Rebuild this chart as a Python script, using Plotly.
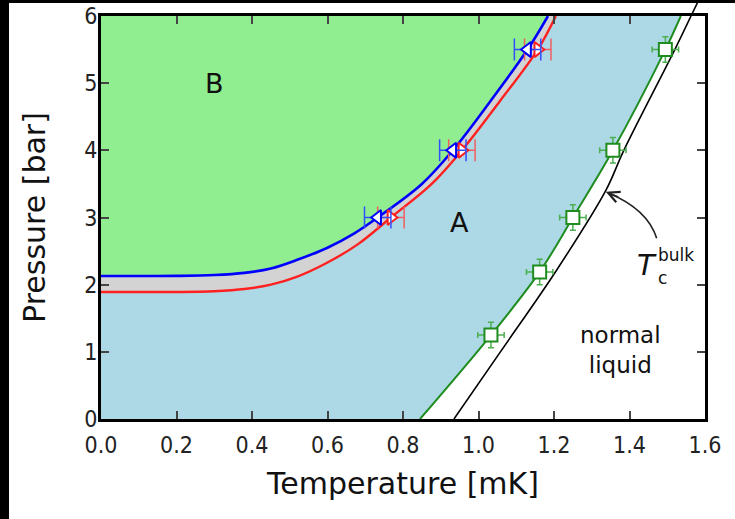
import plotly.graph_objects as go

# ---------------- data ----------------
# A-phase onset line (green), T [mK] as function of P [bar]
green_P = [0.0, 1.25, 2.19, 3.0, 4.0, 5.5, 6.0]
green_T = [0.845, 1.033, 1.162, 1.250, 1.356, 1.495, 1.536]
# green measured points (squares)
sq_P = [1.25, 2.19, 3.0, 4.0, 5.5]
sq_T = [1.033, 1.162, 1.250, 1.356, 1.495]
sq_Terr = [0.035, 0.035, 0.035, 0.035, 0.035]
sq_Perr = [0.19, 0.19, 0.19, 0.19, 0.19]

# bulk Tc (black)
bulk_P = [0.0, 1.0, 2.2, 3.4, 4.0, 5.5, 6.0]
bulk_T = [0.935, 1.058, 1.205, 1.337, 1.385, 1.520, 1.563]

# A-B transition, blue (cooling) and red (warming) lines
blue_T = [0.0, 0.1, 0.2, 0.3, 0.38, 0.45, 0.52, 0.6, 0.67, 0.733, 0.85, 0.932, 1.03, 1.13, 1.184]
blue_P = [2.13, 2.13, 2.131, 2.143, 2.175, 2.24, 2.37, 2.55, 2.76, 3.0, 3.5, 4.0, 4.72, 5.5, 6.0]
red_T = [0.0, 0.1, 0.2, 0.3, 0.38, 0.45, 0.52, 0.6, 0.68, 0.768, 0.876, 0.956, 1.055, 1.157, 1.205]
red_P = [1.89, 1.89, 1.891, 1.903, 1.935, 2.0, 2.12, 2.33, 2.60, 3.0, 3.5, 4.0, 4.72, 5.5, 6.0]

# measured A-B points
blue_pt_T = [0.733, 0.932, 1.13]
blue_pt_P = [3.0, 4.0, 5.5]
red_pt_T = [0.768, 0.956, 1.157]
red_pt_P = [3.0, 4.0, 5.5]
ab_Terr = [0.035, 0.035, 0.035]

x_ticks = [0.0, 0.2, 0.4, 0.6, 0.8, 1.0, 1.2, 1.4, 1.6]
x_ticklabels = ["0.0", "0.2", "0.4", "0.6", "0.8", "1.0", "1.2", "1.4", "1.6"]
y_ticks = [0, 1, 2, 3, 4, 5, 6]
X_RANGE = [0, 1.6]
Y_RANGE = [0, 6]

C_GREENFILL = "#90EE90"
C_BLUEFILL = "#ADD8E6"
C_GRAY = "#D3D3D3"
C_BLUE = "#0000FF"
C_RED = "#FF2020"
C_GREEN = "#1E8C1E"

fig = go.Figure()

# --- filled regions ---
fig.add_trace(go.Scatter(x=green_T, y=green_P, mode="lines", line=dict(width=0, shape="spline"),
                         fill="tozerox", fillcolor=C_BLUEFILL, hoverinfo="skip", showlegend=False))
fig.add_trace(go.Scatter(x=red_T, y=red_P, mode="lines", line=dict(width=0, shape="spline"),
                         fill="tozerox", fillcolor=C_GRAY, hoverinfo="skip", showlegend=False))
fig.add_trace(go.Scatter(x=blue_T, y=blue_P, mode="lines", line=dict(width=0, shape="spline"),
                         fill="tozerox", fillcolor=C_GREENFILL, hoverinfo="skip", showlegend=False))

# --- lines ---
fig.add_trace(go.Scatter(x=bulk_T, y=bulk_P, mode="lines", line=dict(color="black", width=1.6, shape="spline"),
                         showlegend=False))
fig.add_trace(go.Scatter(x=green_T, y=green_P, mode="lines", line=dict(color=C_GREEN, width=2, shape="spline"),
                         showlegend=False))
fig.add_trace(go.Scatter(x=red_T, y=red_P, mode="lines", line=dict(color=C_RED, width=2.4, shape="spline"),
                         showlegend=False))
fig.add_trace(go.Scatter(x=blue_T, y=blue_P, mode="lines", line=dict(color=C_BLUE, width=2.6, shape="spline"),
                         showlegend=False))

# --- markers ---
fig.add_trace(go.Scatter(x=sq_T, y=sq_P, mode="markers",
                         marker=dict(symbol="square", size=13, color="white", line=dict(color=C_GREEN, width=2)),
                         error_x=dict(type="data", array=sq_Terr, color="#4CAF50", thickness=1.5, width=3),
                         error_y=dict(type="data", array=sq_Perr, color="#4CAF50", thickness=1.5, width=3),
                         showlegend=False))
fig.add_trace(go.Scatter(x=red_pt_T, y=red_pt_P, mode="markers",
                         marker=dict(symbol="triangle-right", size=13, color="white", line=dict(color=C_RED, width=2)),
                         error_x=dict(type="data", array=ab_Terr, color="#F06060", thickness=1.5, width=11),
                         showlegend=False))
fig.add_trace(go.Scatter(x=blue_pt_T, y=blue_pt_P, mode="markers",
                         marker=dict(symbol="triangle-left", size=13, color="white", line=dict(color=C_BLUE, width=2)),
                         error_x=dict(type="data", array=ab_Terr, color="#3050FF", thickness=1.5, width=11),
                         showlegend=False))

# extension of the bulk line above the frame (paper coords derived from data)
xa, xb = bulk_T[-2], bulk_T[-1]
ya, yb = bulk_P[-2], bulk_P[-1]
P_ext = 6.24
T_ext = xb + (xb - xa) / (yb - ya) * (P_ext - yb)
fig.add_shape(type="line", xref="paper", yref="paper",
              x0=xb / X_RANGE[1], y0=yb / Y_RANGE[1], x1=T_ext / X_RANGE[1], y1=P_ext / Y_RANGE[1],
              line=dict(color="black", width=1.6))

# black strips at the image edges
fig.add_shape(type="rect", xref="paper", yref="paper", x0=-0.3, x1=1.25, y0=1.0323, y1=1.12,
              fillcolor="black", line_width=0, layer="above")
fig.add_shape(type="rect", xref="paper", yref="paper", x0=-0.3, x1=-0.1523, y0=-0.4, y1=1.12,
              fillcolor="black", line_width=0, layer="above")

# curved arrow to the bulk line
fig.add_shape(type="path", xref="x", yref="y",
              path="M 1.472,2.69 Q 1.449,3.12 1.343,3.37",
              line=dict(color="#222222", width=1.6))
fig.add_annotation(x=1.337, y=3.385, ax=14, ay=6, xref="x", yref="y", axref="pixel", ayref="pixel",
                   text="", showarrow=True, arrowhead=5, arrowsize=1.4, arrowwidth=1.6, arrowcolor="#222222")

TXT = "DejaVu Sans, Open Sans, sans-serif"
fig.add_annotation(x=0.30, y=4.99, text="B", showarrow=False, font=dict(family=TXT, size=27, color="#111"))
fig.add_annotation(x=0.95, y=2.93, text="A", showarrow=False, font=dict(family=TXT, size=27, color="#111"))
fig.add_annotation(x=1.375, y=1.03, text="normal<br>liquid", showarrow=False,
                   font=dict(family=TXT, size=23, color="#111"), align="center")
fig.add_annotation(x=1.446, y=2.30, text="<i>T</i>", showarrow=False, font=dict(family=TXT, size=29, color="#111"))
fig.add_annotation(x=1.522, y=2.44, text="bulk", showarrow=False, font=dict(family=TXT, size=17, color="#111"))
fig.add_annotation(x=1.488, y=2.10, text="c", showarrow=False, font=dict(family=TXT, size=17, color="#111"))

TICKF = "Liberation Sans Narrow, DejaVu Sans Condensed, Arial Narrow, sans-serif"
fig.update_layout(
    width=735, height=519,
    margin=dict(l=101, r=30, t=16, b=100, autoexpand=False),
    paper_bgcolor="white", plot_bgcolor="white",
    xaxis=dict(range=X_RANGE, tickvals=x_ticks, ticktext=x_ticklabels, ticks="inside", ticklen=8, tickwidth=2,
               showline=True, linewidth=3, linecolor="black", mirror="ticks", showgrid=False, zeroline=False,
               automargin=False,
               tickfont=dict(family=TICKF, size=23, color="#222"), ticklabelstandoff=3,
               title=dict(text="Temperature [mK]", font=dict(family=TXT, size=30, color="#111"), standoff=17)),
    yaxis=dict(range=Y_RANGE, tickvals=y_ticks, ticks="inside", ticklen=8, tickwidth=2,
               showline=True, linewidth=3, linecolor="black", mirror="ticks", showgrid=False, zeroline=False,
               automargin=False,
               tickfont=dict(family=TICKF, size=23, color="#222"), ticklabelstandoff=-4,
               title=dict(text="Pressure [bar]", font=dict(family=TXT, size=30, color="#111"), standoff=30)),
)

fig.write_html("out.html")
